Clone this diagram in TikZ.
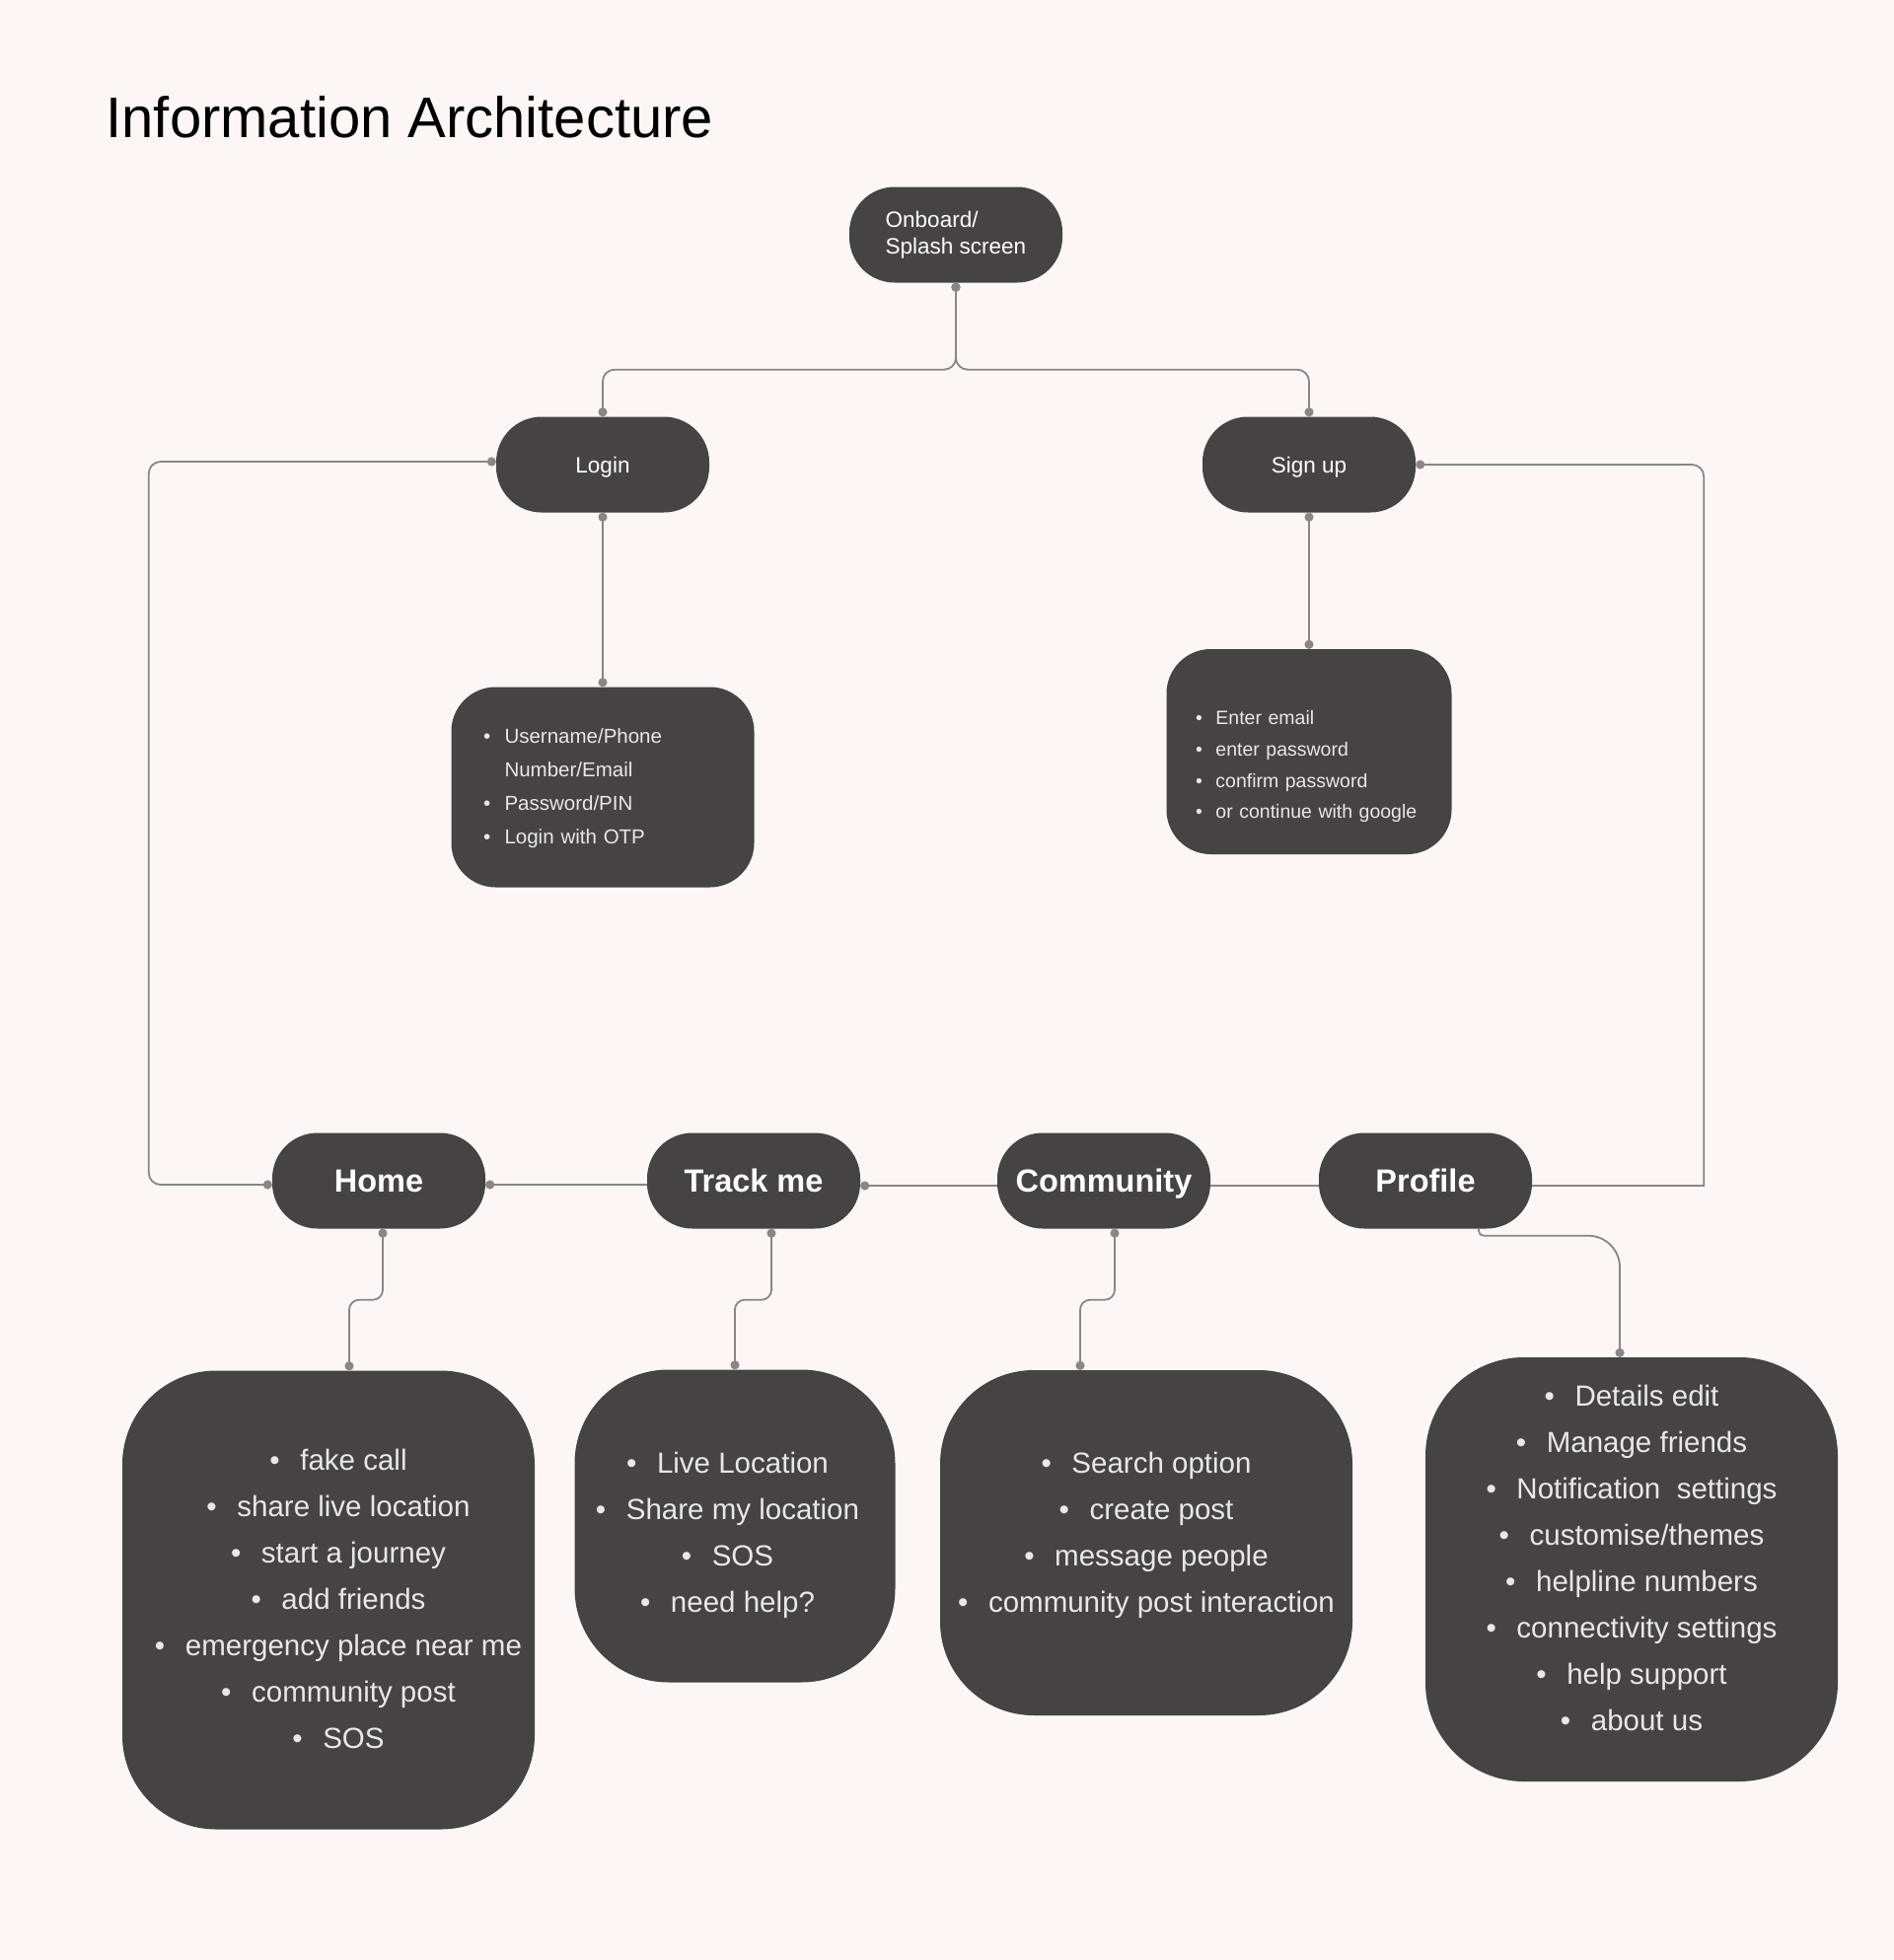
\documentclass[tikz,border=0pt]{standalone}
\usepackage{fontspec}
\setmainfont{Liberation Sans}
\usetikzlibrary{arrows.meta}
\definecolor{paper}{RGB}{253,246,246}
\definecolor{slate}{RGB}{69,67,68}
\definecolor{wire}{RGB}{138,134,134}
\definecolor{ink}{RGB}{232,232,232}
\newcommand{\bul}{\textbullet\hspace{0.7em}}
\newcommand{\lift}[2]{\raisebox{#1}[\height][\depth]{\begin{tabular}{@{}c@{}}#2\end{tabular}}}
\tikzstyle{pill}=[rectangle,rounded corners=46pt,minimum width=216pt,minimum height=97pt,inner sep=0,fill=slate,text=white,font=\fontsize{22.5}{27}\selectfont]
\tikzstyle{tab}=[pill,text depth=0pt,font=\fontsize{32.5}{40}\selectfont\bfseries]
\tikzstyle{card}=[rectangle,rounded corners=95pt,inner sep=0,fill=slate,text=ink,align=center,font=\fontsize{29.5}{47}\selectfont]
\tikzstyle{link}=[wire,line width=1.8pt,rounded corners=12pt]
\tikzstyle{pins}=[{Circle[length=9pt]}-{Circle[length=9pt]}]
\tikzstyle{pinstart}=[{Circle[length=9pt]}-]
\tikzstyle{pinend}=[-{Circle[length=9pt]}]
\begin{document}
\begin{tikzpicture}[x=1pt,y=-1pt]
\fill[paper] (0,0) rectangle (1920,1987);
\useasboundingbox (0,0) rectangle (1920,1987);

\node[anchor=base west,font=\fontsize{58}{70}\selectfont] (title) at (104,139) {Information Architecture};

\node[pill,align=left] (onboard) at (969,238) {Onboard/\\Splash screen};
\node[pill,text depth=0pt] (login) at (611,471) {Login};
\node[pill,text depth=0pt] (signup) at (1327,471) {Sign up};

\node[card,rounded corners=45pt,minimum width=307pt,minimum height=203pt,text width=242pt,align=left,font=\fontsize{20.5}{34}\selectfont] (logininfo) at (611,798) {%
\begin{tabular}{@{}l@{\hspace{0.7em}}l@{}}
\textbullet & Username/Phone\\
 & Number/Email\\
\textbullet & Password/PIN\\
\textbullet & Login with OTP
\end{tabular}};
\node[card,rounded corners=45pt,minimum width=289pt,minimum height=208pt,text width=230pt,align=left,font=\fontsize{19.5}{31.7}\selectfont] (signupinfo) at (1327,762) {%
\raisebox{-14pt}[\height][\depth]{\begin{tabular}{@{}l@{\hspace{0.7em}}l@{}}
\textbullet & Enter email\\
\textbullet & enter password\\
\textbullet & confirm password\\
\textbullet & or continue with google
\end{tabular}}};

% bottom bar
\foreach \name/\x/\txt in {home/384/Home,track/764/Track me,community/1119/Community,profile/1445/Profile}
	\node[tab] (\name) at (\x,1197) {\txt};
\coordinate (bend) at ([xshift=174pt,yshift=-5pt]profile.east);

\node[card,minimum width=418pt,minimum height=465pt] (homeinfo) at (333,1622) {\hspace{20pt}\lift{0pt}{\bul fake call\\ \bul share live location\\ \bul start a journey\\ \bul add friends\\ \bul emergency place near me\\ \bul community post\\ \bul SOS}};
\node[card,minimum width=325pt,minimum height=317pt] (trackinfo) at (745,1547) {\hspace{-15pt}\lift{-8pt}{\bul Live Location\\ \bul Share my location\\ \bul SOS\\ \bul need help?}};
\node[card,minimum width=418pt,minimum height=350pt] (communityinfo) at (1162,1564) {\lift{9pt}{\bul Search option\\ \bul create post\\ \bul message people\\ \bul community post interaction}};
\node[card,rounded corners=100pt,minimum width=418pt,minimum height=430pt] (profileinfo) at (1654,1591) {\lift{10pt}{\bul Details edit\\ \bul Manage friends\\ \bul Notification~ settings\\ \bul customise/themes\\ \bul helpline numbers\\ \bul connectivity settings\\ \bul help support\\ \bul about us}};

\draw[link,pins] (onboard.south) -- ++(0,88) -| (login.north);
\draw[link,pins] (onboard.south) -- ++(0,88) -| (signup.north);
\draw[link,pins] (login.south) -- (logininfo.north);
\draw[link,pins] (signup.south) -- (signupinfo.north);
\draw[link,pins] ([yshift=3pt]login.west) -| ([xshift=-125pt,yshift=-4pt]home.west) -- ([yshift=-4pt]home.west);
\draw[link,pinstart] (signup.east) -- (bend |- signup.east) [sharp corners] -- (bend) -- ([yshift=-5pt]profile.east);
\draw[link,pinstart] ([yshift=-4pt]home.east) -- ([yshift=-4pt]track.west);
\draw[link,pinstart] ([yshift=-5pt]track.east) -- ([yshift=-5pt]community.west);
\draw[link] ([yshift=-5pt]community.east) -- ([yshift=-5pt]profile.west);

\draw[link,pins,rounded corners=10pt] ([xshift=4pt]home.south) -- ++(0,72) -| ([xshift=21pt]homeinfo.north);
\draw[link,pins,rounded corners=10pt] ([xshift=18pt]track.south) -- ++(0,72) -| (trackinfo.north);
\draw[link,pins,rounded corners=10pt] ([xshift=11pt]community.south) -- ++(0,72) -| ([xshift=-67pt]communityinfo.north);
\draw[link,pinend] ([xshift=54pt]profile.south) [rounded corners=5pt] -- ++(0,7) [rounded corners=32pt] -| ([xshift=-12pt]profileinfo.north);
\end{tikzpicture}
\end{document}
